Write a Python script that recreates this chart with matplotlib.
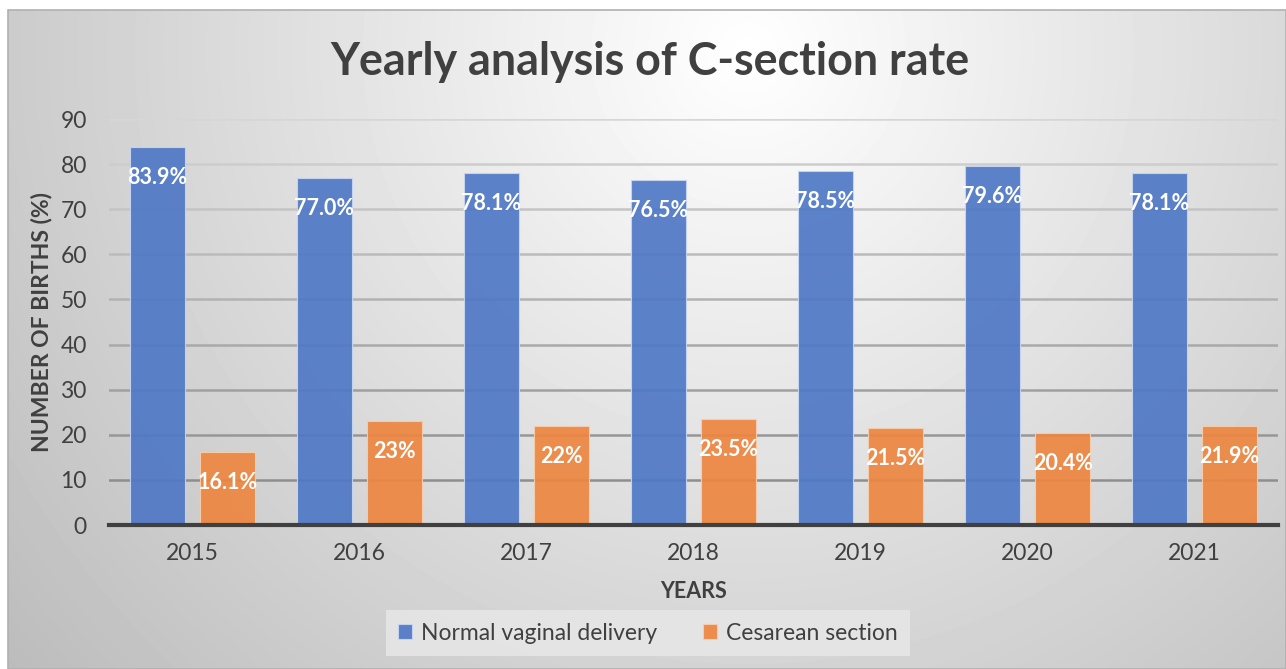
import matplotlib
matplotlib.use('Agg')

import matplotlib.pyplot as plt
import numpy as np
from matplotlib.patches import Rectangle

# Data
years = ['2015', '2016', '2017', '2018', '2019', '2020', '2021']
normal = [83.9, 77.0, 78.1, 76.5, 78.5, 79.6, 78.1]
cesarean = [16.1, 23, 22, 23.5, 21.5, 20.4, 21.9]
normal_labels = ['83.9%', '77.0%', '78.1%', '76.5%', '78.5%', '79.6%', '78.1%']
cesarean_labels = ['16.1%', '23%', '22%', '23.5%', '21.5%', '20.4%', '21.9%']

plt.rcParams['font.family'] = ['Lato', 'DejaVu Sans']

W, H = 1286, 669
fig = plt.figure(figsize=(W / 100, H / 100), dpi=100)

# Background with a soft radial gradient, like the Excel chart area
bg = fig.add_axes([8 / W, 0, 1 - 8 / W, 1 - 10 / H])
yy, xx = np.mgrid[0:H - 10, 0:W - 8]
d = np.sqrt((xx - 740) ** 2 + (yy - 40) ** 2)
shade = np.clip(1.0 - 0.26 * d / 950, 0.72, 1.0)
bg.imshow(shade, cmap='gray', vmin=0, vmax=1, aspect='auto', interpolation='bilinear')
bg.set_axis_off()
fig.patches.append(Rectangle((8 / W, 0), 1 - 8 / W, 1 - 10 / H, transform=fig.transFigure,
                             fill=False, edgecolor='#b0b0b0', lw=1.2))

ax = fig.add_axes([109 / W, 144 / H, 1169 / W, 406 / H])
ax.patch.set_alpha(0)

x = np.arange(len(years))
off = 0.21
w = 0.33

ax.set_ylim(0, 90)
ax.set_xlim(-0.5, len(years) - 0.5)
ax.set_yticks(np.arange(0, 91, 10))
ax.grid(axis='y', lw=1.8)
ax.set_axisbelow(True)
# gridlines fade lighter towards the top
for i, gl in enumerate(ax.get_ygridlines()):
    g = 0.52 + 0.32 * i / 9
    gl.set_color((g, g, g))

b1 = ax.bar(x - off, normal, w, color='#4f78c6', alpha=0.92, edgecolor='#c9d6f0', lw=0.8,
            label='Normal vaginal delivery')
b2 = ax.bar(x + off, cesarean, w, color='#ed8640', alpha=0.92, edgecolor='#f6cfae', lw=0.8,
            label='Cesarean section')

for bars, labs in ((b1, normal_labels), (b2, cesarean_labels)):
    for rect, lab in zip(bars, labs):
        ax.annotate(lab, (rect.get_x() + rect.get_width() / 2, rect.get_height()),
                    xytext=(0, -22), textcoords='offset points', ha='center', va='center',
                    color='white', fontsize=15.5, fontweight='bold')

for s in ['top', 'right', 'left']:
    ax.spines[s].set_visible(False)
ax.spines['bottom'].set_color('#404040')
ax.spines['bottom'].set_linewidth(3)

ax.set_xticks(x)
ax.set_xticklabels(years)
ax.tick_params(axis='both', length=0, colors='#404040', labelsize=16.5)
ax.tick_params(axis='x', pad=13)
ax.tick_params(axis='y', pad=16)

ax.set_xlabel('YEARS', fontsize=15.5, fontweight='bold', color='#404040', labelpad=12)
ax.set_ylabel('NUMBER OF BIRTHS (%)', fontsize=16.5, fontweight='bold', color='#404040', labelpad=6)

fig.text(0.505, 1 - 62 / H, 'Yearly analysis of C-section rate', ha='center', va='center',
         fontsize=32.3, fontweight='bold', color='#404040')

leg = fig.legend(handles=[b1, b2], loc='center', bbox_to_anchor=(648 / W, 1 - 633 / H),
                 ncol=2, frameon=True, fontsize=16.5, handlelength=0.6, handleheight=0.6,
                 columnspacing=2.0, handletextpad=0.4, borderpad=0.55, borderaxespad=0,
                 fancybox=False)
leg.get_frame().set_facecolor('#e6e6e6')
leg.get_frame().set_edgecolor('none')
leg.get_frame().set_alpha(0.9)
for t in leg.get_texts():
    t.set_color('#404040')

plt.savefig('out.png', dpi=100)
